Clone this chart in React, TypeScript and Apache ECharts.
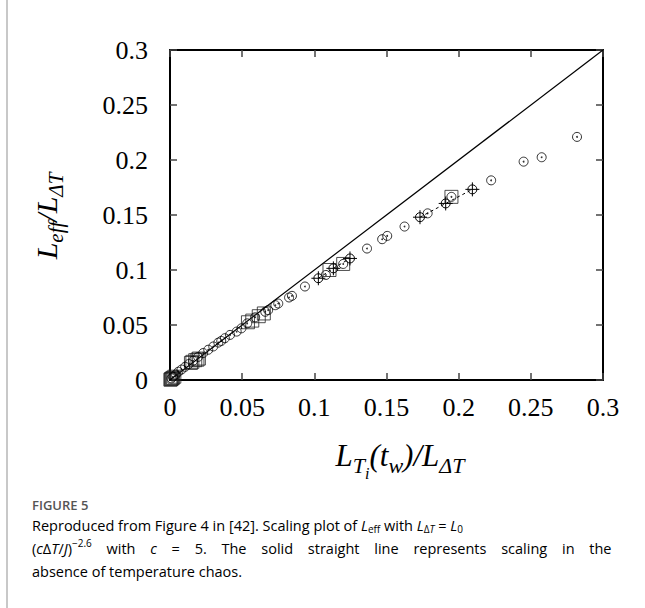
import React, { useEffect, useRef } from "react";
import * as echarts from "echarts";

// ---- data ----
const axisMin = 0;
const axisMax = 0.3;
const tickStep = 0.05;

const circleX = [0.001, 0.002, 0.004, 0.0058, 0.008, 0.0105, 0.013, 0.016, 0.0195, 0.023, 0.0265, 0.03, 0.0335, 0.0355, 0.038, 0.0416, 0.0462, 0.0495, 0.0535, 0.059, 0.066, 0.068, 0.073, 0.075, 0.0825, 0.0845, 0.0935, 0.108, 0.12, 0.1365, 0.147, 0.1505, 0.1625, 0.1785, 0.195, 0.2225, 0.245, 0.2575, 0.282];
const circleY = [0.0015, 0.003, 0.005, 0.0075, 0.0095, 0.012, 0.0145, 0.0175, 0.021, 0.0245, 0.0275, 0.0305, 0.034, 0.0355, 0.038, 0.041, 0.044, 0.047, 0.0515, 0.057, 0.062, 0.0635, 0.068, 0.0695, 0.075, 0.0765, 0.085, 0.0955, 0.1055, 0.1195, 0.128, 0.131, 0.1395, 0.1515, 0.1665, 0.1815, 0.1985, 0.2025, 0.221];

const squareX = [0.0003, 0.0006, 0.001, 0.0015, 0.002, 0.003, 0.0145, 0.0155, 0.0175, 0.019, 0.02, 0.054, 0.057, 0.0615, 0.065, 0.1105, 0.12, 0.195];
const squareY = [0.0003, 0.0006, 0.001, 0.0015, 0.002, 0.003, 0.0155, 0.0165, 0.018, 0.0185, 0.0195, 0.0525, 0.054, 0.058, 0.0605, 0.1, 0.1055, 0.1665];

const crossAX = [0.1028, 0.1132, 0.1247];
const crossAY = [0.0925, 0.1015, 0.1105];
const crossBX = [0.1732, 0.191, 0.2095];
const crossBY = [0.148, 0.1605, 0.1733];

const refLineX = [0, 0.3];
const refLineY = [0, 0.3];

const zip = (xs: number[], ys: number[]) => xs.map((x, i) => [x, ys[i]]);

const SERIF = "'Liberation Serif', 'Times New Roman', serif";
const SANS = "'Open Sans', 'Noto Sans', sans-serif";
const CROSS =
  "path://M-7,0L7,0M0,-7L0,7M4.5,0A4.5,4.5,0,1,1,-4.5,0A4.5,4.5,0,1,1,4.5,0Z";

const CAP_SIZE = 14.5;
const CAP_SMALL = 10;
const line2Words = ["with", "c", "=", "5.", "The", "solid", "straight", "line", "represents", "scaling", "in", "the"];

export default function App() {
  const ref = useRef<HTMLDivElement>(null);

  useEffect(() => {
    if (!ref.current) return;
    const chart = echarts.init(ref.current, undefined, { renderer: "svg" });

    // measure natural width of caption line 2 to justify it to the text column
    const ctx = document.createElement("canvas").getContext("2d");
    let spaceExtra = 0;
    if (ctx) {
      ctx.font = `${CAP_SIZE}px 'Open Sans'`;
      const natural =
        ctx.measureText("(cΔT/J) " + line2Words.join(" ")).width +
        (() => {
          ctx.font = `${CAP_SMALL}px 'Open Sans'`;
          return ctx.measureText("−2.6").width;
        })();
      spaceExtra = Math.max(0, (581 - natural) / 12);
    }

    const axisCommon = {
      type: "value" as const,
      min: axisMin,
      max: axisMax,
      interval: tickStep,
      splitLine: { show: false },
      axisLine: { show: true, onZero: false, lineStyle: { color: "#000", width: 2 } },
      axisTick: { show: true, inside: true, length: 7, lineStyle: { color: "#444", width: 1.5 } },
    };
    const labelStyle = { fontFamily: SERIF, fontSize: 26, color: "#000" };

    const titleRich = (size: number, sub: number, subsub: number) => ({
      m: { fontFamily: SERIF, fontStyle: "italic", fontSize: size, color: "#000", lineHeight: 42, verticalAlign: "bottom", padding: [0, 0, 12, 0] },
      s: { fontFamily: SERIF, fontStyle: "italic", fontSize: sub, color: "#000", lineHeight: 42, verticalAlign: "bottom", padding: [0, 0, 7, 0] },
      ss: { fontFamily: SERIF, fontStyle: "italic", fontSize: subsub, color: "#000", lineHeight: 42, verticalAlign: "bottom", padding: [0, 0, 2, 0] },
    });

    const capBase = { fontFamily: SANS, fontSize: CAP_SIZE, color: "#555", lineHeight: 24 };
    const capRich = {
      n: { ...capBase, verticalAlign: "middle" },
      sp: { ...capBase, verticalAlign: "middle", padding: [0, spaceExtra / 2, 0, spaceExtra / 2] },
      a: { ...capBase, color: "#3d5fa8", verticalAlign: "middle" },
      i: { ...capBase, fontStyle: "italic", verticalAlign: "middle" },
      s: { ...capBase, fontSize: CAP_SMALL, verticalAlign: "bottom", padding: [0, 0, 3, 0] },
      si: { ...capBase, fontSize: CAP_SMALL, fontStyle: "italic", verticalAlign: "bottom", padding: [0, 0, 3, 0] },
      p: { ...capBase, fontSize: CAP_SMALL, verticalAlign: "top", padding: [2, 0, 0, 0] },
    };

    const line2 =
      "{n|(}{i|c}{n|Δ}{i|T}{n|/}{i|J}{n|)}{p|−2.6}" +
      line2Words.map((w) => "{sp| }" + (w === "c" ? "{i|c}" : `{n|${w}}`)).join("");

    chart.setOption({
      animation: false,
      backgroundColor: "#fff",
      grid: { left: 170, right: 42, top: 50, bottom: 228, containLabel: false, outerBoundsMode: "none" },
      xAxis: [
        { ...axisCommon, position: "bottom", axisLabel: { ...labelStyle, margin: 14 } },
        { ...axisCommon, position: "top", axisLabel: { show: false } },
      ],
      yAxis: [
        { ...axisCommon, position: "left", axisLabel: { ...labelStyle, margin: 22 } },
        { ...axisCommon, position: "right", axisLabel: { show: false } },
      ],
      series: [
        {
          type: "line",
          data: zip(refLineX, refLineY),
          symbol: "none",
          lineStyle: { color: "#000", width: 1.2 },
          z: 1,
        },
        {
          type: "scatter",
          data: zip(squareX, squareY),
          symbol: "rect",
          symbolSize: 13,
          itemStyle: { color: "rgba(0,0,0,0)", borderColor: "#222", borderWidth: 1 },
          z: 2,
        },
        {
          type: "scatter",
          data: zip(circleX, circleY),
          symbol: "circle",
          symbolSize: 9,
          itemStyle: { color: "rgba(0,0,0,0)", borderColor: "#000", borderWidth: 1 },
          z: 3,
        },
        {
          type: "scatter",
          data: zip(circleX, circleY),
          symbol: "circle",
          symbolSize: 1.8,
          itemStyle: { color: "#000" },
          z: 3,
        },
        ...[zip(crossAX, crossAY), zip(crossBX, crossBY)].map((d) => ({
          type: "line",
          data: d,
          symbol: CROSS,
          symbolSize: 14,
          showSymbol: true,
          lineStyle: { color: "#000", width: 1, type: [3, 3] },
          itemStyle: { color: "rgba(0,0,0,0)", borderColor: "#000", borderWidth: 1 },
          z: 4,
        })),
      ],
      graphic: [
        { type: "line", shape: { x1: 7, y1: 0, x2: 7, y2: 608 }, style: { stroke: "#c8c8c8", lineWidth: 2 } },
        {
          type: "text",
          x: 400,
          y: 462,
          style: {
            text: "{m|L}{s|T}{ss|i}{m|(t}{s|w}{m|)/L}{s|ΔT}",
            rich: titleRich(31, 22, 16),
            align: "center",
            verticalAlign: "middle",
          },
        },
        {
          type: "text",
          x: 52,
          y: 216,
          rotation: Math.PI / 2,
          style: {
            text: "{m|L}{s|eff}{m|/L}{s|ΔT}",
            rich: titleRich(30, 21, 16),
            align: "center",
            verticalAlign: "middle",
          },
        },
        {
          type: "text",
          x: 32,
          y: 505,
          style: { text: "FIGURE 5", fontFamily: SANS, fontSize: 13, fontWeight: 600, fill: "#555", align: "left", verticalAlign: "middle" },
        },
        {
          type: "text",
          x: 32,
          y: 525,
          style: {
            text: "{n|Reproduced from }{a|Figure 4}{n| in [}{a|42}{n|]. Scaling plot of }{i|L}{s|eff}{n| with }{i|L}{s|Δ}{si|T}{n| = }{i|L}{s|0}",
            rich: capRich,
            align: "left",
            verticalAlign: "middle",
          },
        },
        {
          type: "text",
          x: 32,
          y: 548,
          style: {
            text: line2,
            rich: capRich,
            align: "left",
            verticalAlign: "middle",
          },
        },
        {
          type: "text",
          x: 32,
          y: 571,
          style: {
            text: "{n|absence of temperature chaos.}",
            rich: capRich,
            align: "left",
            verticalAlign: "middle",
          },
        },
      ],
    });

    return () => chart.dispose();
  }, []);

  return (
    <div
      ref={ref}
      style={{ position: "fixed", left: 0, top: 0, width: 645, height: 608, background: "#fff" }}
    />
  );
}
